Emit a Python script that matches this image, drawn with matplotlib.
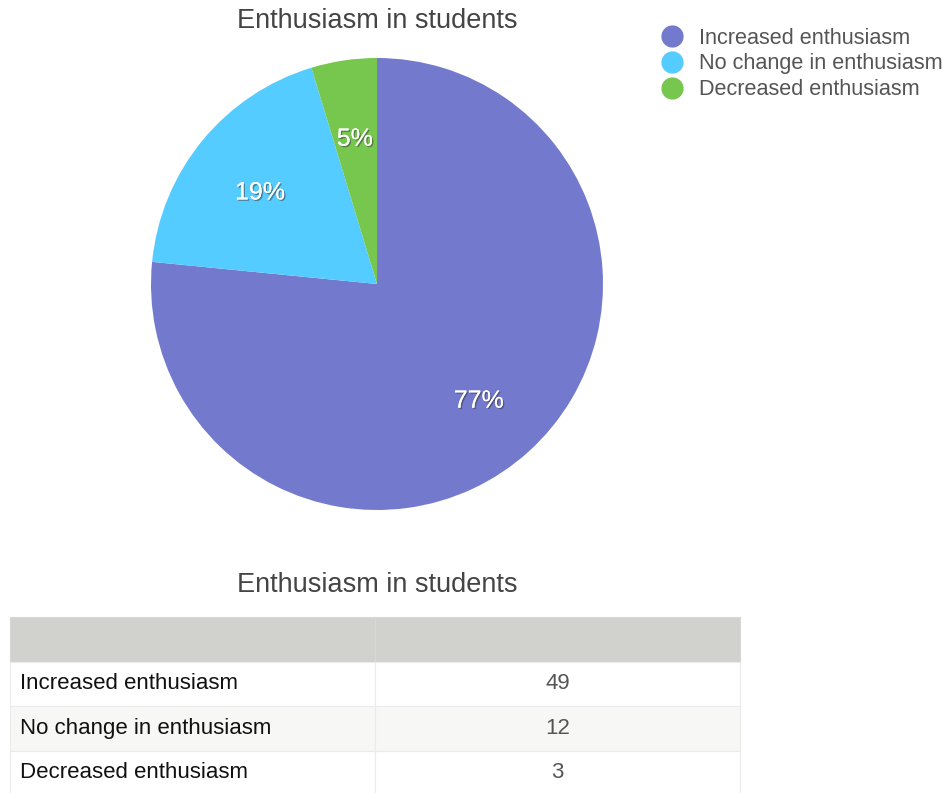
import matplotlib
matplotlib.use('Agg')
import matplotlib.pyplot as plt
import matplotlib.patheffects as pe
from matplotlib.lines import Line2D

# ── Data ──────────────────────────────────────────────────────
categories = ['Increased enthusiasm', 'No change in enthusiasm', 'Decreased enthusiasm']
counts     = [49, 12, 3]
title      = 'Enthusiasm in students'

# ── Style ─────────────────────────────────────────────────────
plt.rcParams['font.family'] = ['Liberation Sans', 'DejaVu Sans']
COLORS     = ['#737ACE', '#55CCFF', '#77C74F']
TITLE_CLR  = '#444444'
W, H = 952, 793

fig = plt.figure(figsize=(W / 100, H / 100), dpi=100)
fig.patch.set_facecolor('white')

def px_axes(x0, y0, x1, y1):
    # axes from pixel box (top-left origin)
    return fig.add_axes([x0 / W, 1 - y1 / H, (x1 - x0) / W, (y1 - y0) / H])

# ══ Pie ═══════════════════════════════════════════════════════
cx, cy, r = 377, 284, 226
ax = px_axes(cx - r, cy - r, cx + r, cy + r)
wedges, texts, autotexts = ax.pie(
    counts, colors=COLORS, startangle=90, counterclock=False,
    autopct='%1.0f%%', pctdistance=0.67, radius=1,
    wedgeprops=dict(linewidth=0))
for at in autotexts:
    at.set_color('white')
    at.set_fontsize(18)
    x, y = at.get_position()
    at.set_position((x, y - 0.02))
    at.set_path_effects([pe.withSimplePatchShadow(offset=(1, -1),
                                                  shadow_rgbFace='#333333', alpha=0.5),
                         pe.Normal()])
ax.set_xlim(-1, 1)
ax.set_ylim(-1, 1)
ax.set_aspect('equal')
ax.axis('off')

fig.text(cx / W, 1 - 21 / H, title, ha='center', va='center',
         fontsize=19.5, color=TITLE_CLR)

# legend
handles = [Line2D([0], [0], marker='o', linestyle='none', markersize=15,
                  markerfacecolor=c, markeredgecolor=c) for c in COLORS]
leg = fig.legend(handles, categories, loc='upper left',
                 bbox_to_anchor=(651 / W, 1 - 19 / H), frameon=False,
                 fontsize=15.6, handletextpad=0.72, labelspacing=0.22,
                 borderaxespad=0, handlelength=1.1)
for t in leg.get_texts():
    t.set_color('#555555')

# ══ Table ═════════════════════════════════════════════════════
fig.text(cx / W, 1 - 585 / H, title, ha='center', va='center',
         fontsize=19.5, color=TITLE_CLR)

tax = px_axes(10, 617, 740, 795)
tax.axis('off')
cell_text = [['', '']] + [[c, str(v)] for c, v in zip(categories, counts)]
tbl = tax.table(cellText=cell_text, bbox=[0, 0, 1, 1], cellLoc='center')
tbl.auto_set_font_size(False)
col_w = [365 / 730, 365 / 730]
row_fill = ['#D1D1CD', 'white', '#F7F7F5', 'white']
for (row, col), cell in tbl.get_celld().items():
    cell.set_width(col_w[col])
    cell.set_facecolor(row_fill[row])
    cell.set_edgecolor('#EBEBEB' if row > 0 else '#D8D8D4')
    cell.set_linewidth(0.8)
    txt = cell.get_text()
    txt.set_fontsize(16)
    if col == 0:
        cell._loc = 'left'
        cell.PAD = 0.027
        txt.set_horizontalalignment('left')
        txt.set_color('#111111')
    else:
        txt.set_color('#555555')

fig.savefig('out.png', dpi=100, facecolor='white')
